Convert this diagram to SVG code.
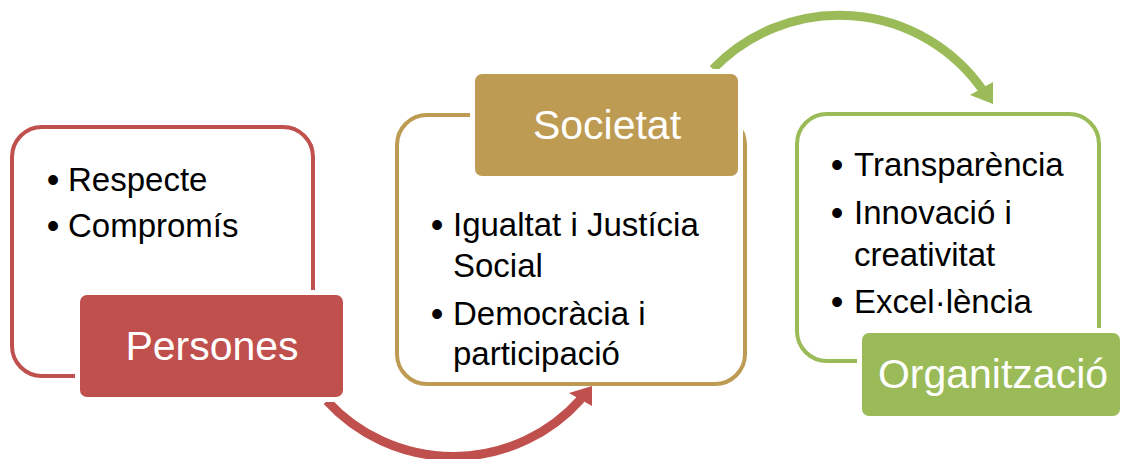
<svg xmlns="http://www.w3.org/2000/svg" width="1123" height="459" viewBox="0 0 1123 459">
<defs>
<style>
.box{fill:#FFFFFF;stroke-width:4}
.lbl{stroke:#FFFFFF;stroke-width:10;paint-order:stroke}
.lt{font-family:"Liberation Sans",Arial,sans-serif;font-size:41px;fill:#FFFFFF;text-anchor:middle}
.bt{font-family:"Liberation Sans",Arial,sans-serif;font-size:33px;fill:#000000}
.bu{font-family:"Liberation Sans",Arial,sans-serif;font-size:36px;fill:#000000;text-anchor:middle}
.arc{fill:none;stroke-width:9}
</style>
</defs>
<rect width="1123" height="459" fill="#FFFFFF"/>
<g id="connectors">
<path class="arc" stroke="#C0504D" d="M 327 401 A 171 171 0 0 0 581 399"/>
<polygon fill="#C0504D" points="569,393 592,386 592,406"/>
<path class="arc" stroke="#9BBB59" stroke-width="10" d="M 713 69 A 175 175 0 0 1 982 89"/>
<polygon fill="#9BBB59" points="970,95 993,82 993,104"/>
</g>
<g id="node-persones">
<rect class="box" stroke="#C0504D" x="12" y="127" width="301" height="249" rx="30"/>
<text class="bu" x="53" y="192">•</text>
<text class="bt" x="68" y="191">Respecte</text>
<text class="bu" x="53" y="238">•</text>
<text class="bt" x="68" y="237">Compromís</text>
<rect class="lbl" fill="#C0504D" x="80" y="295" width="263" height="102" rx="7"/>
<text class="lt" x="212" y="360">Persones</text>
</g>
<g id="node-societat">
<rect class="box" stroke="#BE9B52" x="397" y="115" width="348" height="269" rx="30"/>
<rect class="lbl" fill="#BE9B52" x="475" y="74" width="263" height="102" rx="7"/>
<text class="lt" x="607" y="139">Societat</text>
<text class="bu" x="437" y="237">•</text>
<text class="bt" x="453" y="236">Igualtat i Justícia</text>
<text class="bt" x="453" y="277">Social</text>
<text class="bu" x="437" y="326">•</text>
<text class="bt" x="453" y="325">Democràcia i</text>
<text class="bt" x="453" y="365">participació</text>
</g>
<g id="node-organitzacio">
<rect class="box" stroke="#9BBB59" x="797" y="114" width="302" height="247" rx="30"/>
<text class="bu" x="837" y="177">•</text>
<text class="bt" x="854" y="176">Transparència</text>
<text class="bu" x="837" y="225">•</text>
<text class="bt" x="854" y="224">Innovació i</text>
<text class="bt" x="854" y="266">creativitat</text>
<text class="bu" x="837" y="314">•</text>
<text class="bt" x="854" y="313">Excel·lència</text>
<rect class="lbl" fill="#9BBB59" x="862" y="333" width="258" height="83" rx="7"/>
<text class="lt" x="993" y="388">Organització</text>
</g>
</svg>
